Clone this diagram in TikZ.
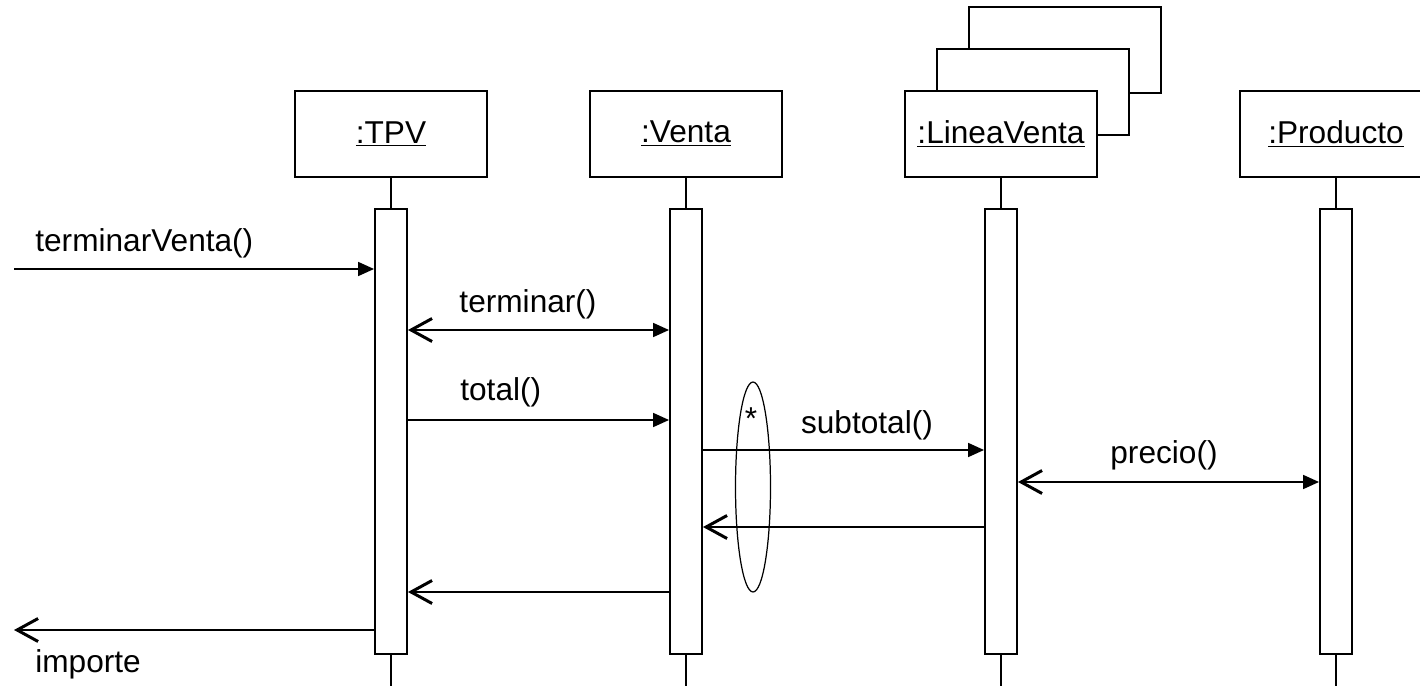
\documentclass[tikz,border=0pt]{standalone}
\usepackage{fontspec}
\setmainfont{Liberation Sans}
\usetikzlibrary{arrows.meta,positioning}

\tikzset{
  obj/.style={draw, fill=white, line width=1.1pt, minimum width=3.84cm, minimum height=1.72cm, inner sep=0pt, font=\fontsize{18}{22}\selectfont},
  act/.style={draw, fill=white, line width=1.1pt, minimum width=0.64cm, minimum height=8.9cm, inner sep=0pt},
  life/.style={line width=0.8pt},
  msg/.style={inner sep=0pt, font=\fontsize{18}{22}\selectfont},
  call/.style={line width=1pt, -{Triangle[length=0.32cm,width=0.28cm]}},
  reply/.style={line width=1pt, -{Straight Barb[length=0.42cm,width=0.46cm,line width=1.7pt]}},
  both/.style={line width=1pt, {Straight Barb[length=0.42cm,width=0.46cm,line width=1.7pt]}-{Triangle[length=0.32cm,width=0.28cm]}},
}

\begin{document}
\begin{tikzpicture}[x=0.02cm, y=-0.02cm]
  \useasboundingbox (0,0) rectangle (1420,686);

  % objects
  \node[obj] (tpv)   at (391,134)  {\underline{:TPV}};
  \node[obj] (venta) at (686,134)  {\underline{:Venta}};
  \node[obj] (lv3)   at (1065,50)  {};
  \node[obj] (lv2)   at (1033,92)  {};
  \node[obj] (lv)    at (1001,134) {\underline{:LineaVenta}};
  \node[obj] (prod)  at (1336,134) {\underline{:Producto}};

  % lifelines and activations
  \foreach \o/\x in {tpv/391, venta/686, lv/1001, prod/1336} {
    \node[act] (\o-bar) at (\x,431.5) {};
    \coordinate (\o-end) at (\x,686);
    \draw[life] (\o.south) -- (\o-bar.north);
    \draw[life] (\o-bar.south) -- (\o-end);
  }

  % message levels
  \coordinate (start)  at (14,269);
  \coordinate (m1)     at (0,330);
  \coordinate (m2)     at (0,420);
  \coordinate (m3)     at (0,450);
  \coordinate (m4)     at (0,482);
  \coordinate (r1)     at (0,527);
  \coordinate (r2)     at (0,592);
  \coordinate (finish) at (14,630);

  \draw[call]  (start) -- (tpv-bar.west |- start);
  \draw[both]  (tpv-bar.east |- m1) -- (venta-bar.west |- m1);
  \draw[call]  (tpv-bar.east |- m2) -- (venta-bar.west |- m2);
  \draw[call]  (venta-bar.east |- m3) -- (lv-bar.west |- m3);
  \draw[both]  (lv-bar.east |- m4) -- (prod-bar.west |- m4);
  \draw[reply] (lv-bar.west |- r1) -- (venta-bar.east |- r1);
  \draw[reply] (venta-bar.west |- r2) -- (tpv-bar.east |- r2);
  \draw[reply] (tpv-bar.west |- finish) -- (finish);

  % labels
  \node[msg, anchor=base west] (l-start)  at (35,251)   {terminarVenta()};
  \node[msg, anchor=base]      (l-term)   at (528,312)  {terminar()};
  \node[msg, anchor=base west] (l-total)  at (460,400)  {total()};
  \node[msg, anchor=base]      (l-sub)    at (867,433)  {subtotal()};
  \node[msg, anchor=base]      (l-precio) at (1164,463) {precio()};
  \node[msg, anchor=base west] (l-imp)    at (35,672)   {importe};

  % iteration
  \draw[line width=0.7pt] (753,487) ellipse [x radius=0.35cm, y radius=2.1cm];
  \node[msg, anchor=base] (star) at (751,429) {*};
\end{tikzpicture}
\end{document}
